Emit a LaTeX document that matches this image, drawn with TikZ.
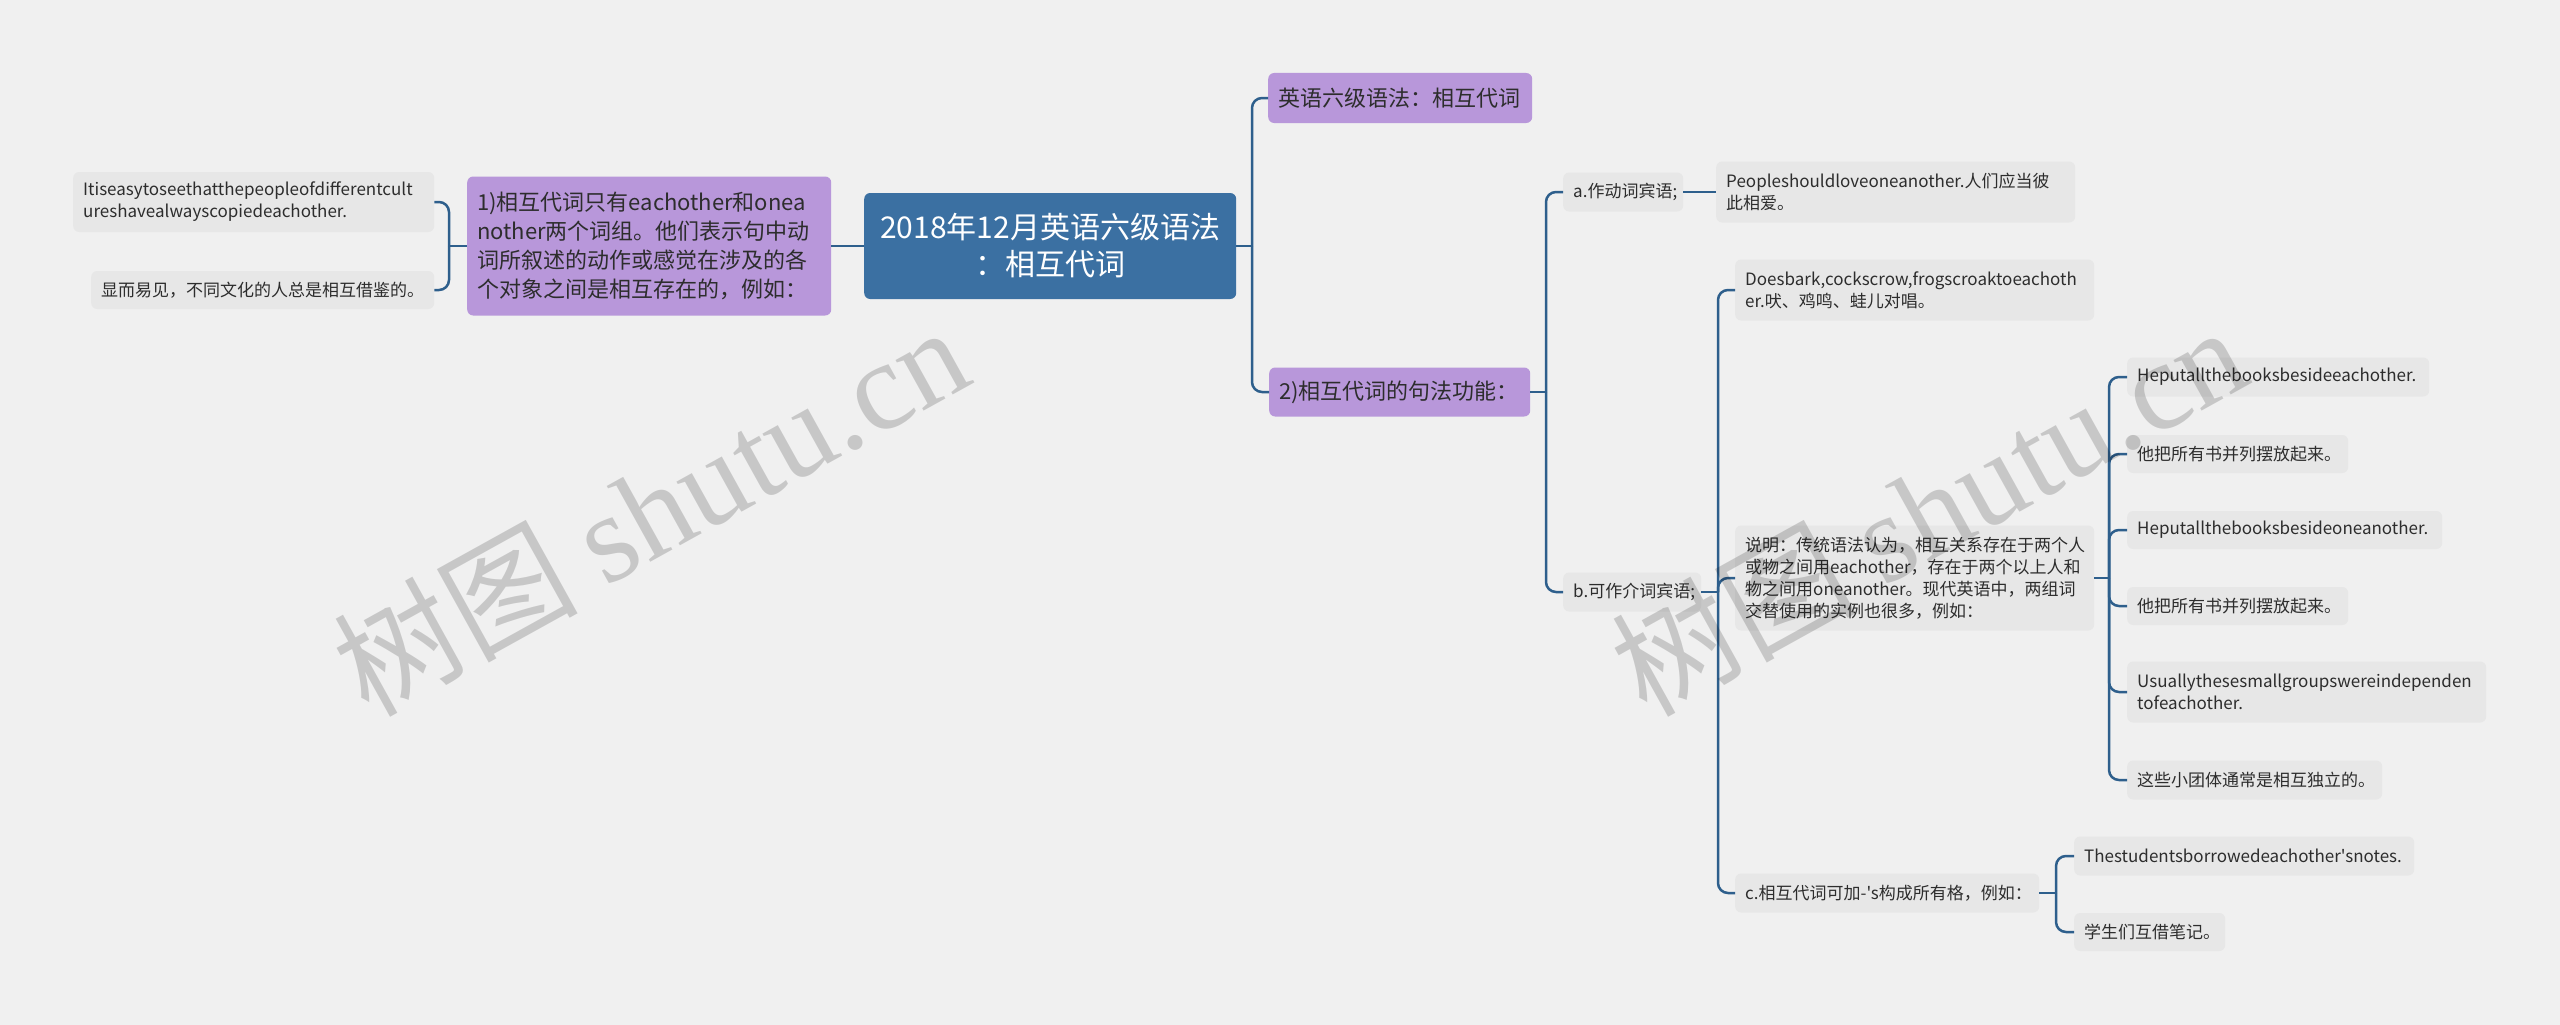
\documentclass[tikz,border=0pt]{standalone}
\usepackage{fontspec}
\newfontfamily\cjk{Noto Sans CJK SC}
\newfontfamily\wmserif{Liberation Serif}
\definecolor{bgc}{RGB}{240,240,240}
\definecolor{leaffill}{RGB}{231,231,231}
\definecolor{purp}{RGB}{184,151,218}
\definecolor{rootblue}{RGB}{59,112,162}
\definecolor{connc}{RGB}{46,95,140}
\definecolor{txt}{RGB}{45,45,45}
\tikzset{
  box/.style={rounded corners=6pt, anchor=west, inner xsep=10pt, inner ysep=0pt, align=left, text=txt},
  leaf/.style={box, fill=leaffill, font=\cjk\fontsize{17pt}{22pt}\selectfont},
  purpbox/.style={box, fill=purp, font=\cjk\fontsize{22pt}{29pt}\selectfont},
  rootbox/.style={box, fill=rootblue, text=white, align=center, font=\cjk\fontsize{30pt}{37pt}\selectfont},
  conn/.style={draw=connc, line width=2.5pt, rounded corners=10pt},
  wm/.style={text=black, text opacity=0.17, font=\cjk\fontsize{122pt}{130pt}\selectfont}
}
\begin{document}
\begin{tikzpicture}[x=1pt,y=-1pt]
\fill[bgc] (0,0) rectangle (2560,1025);
\useasboundingbox (0,0) rectangle (2560,1025);

% root
\node[rootbox, text width=352pt, minimum height=106pt] (root) at (864,246) {2018年12月英语六级语法\\：相互代词};

% left
\node[purpbox, text width=344pt, minimum height=139pt] (L) at (467,246) {1)相互代词只有eachother和onea\\nother两个词组。他们表示句中动\\词所叙述的动作或感觉在涉及的各\\个对象之间是相互存在的，例如：};
\node[leaf, text width=341pt, minimum height=60pt] (L1) at (73,202) {Itiseasytoseethatthepeopleofdifferentcult\\ureshavealwayscopiedeachother.};
\node[leaf, text width=323pt, minimum height=38pt] (L2) at (91,290) {显而易见，不同文化的人总是相互借鉴的。};

% right level 1
\node[purpbox, text width=244pt, minimum height=50pt] (R1) at (1268,98) {英语六级语法：相互代词};
\node[purpbox, text width=241pt, minimum height=49pt] (R2) at (1269,392) {2)相互代词的句法功能：};

% level 2
\node[leaf, text width=100pt, minimum height=39pt] (A) at (1563,192) {a.作动词宾语;};
\node[leaf, text width=339pt, minimum height=61pt] (P) at (1716,192) {Peopleshouldloveoneanother.人们应当彼\\此相爱。};
\node[leaf, text width=118pt, minimum height=39pt] (B) at (1563,592) {b.可作介词宾语;};

% level 3
\node[leaf, text width=339pt, minimum height=61pt] (D) at (1735,290) {Doesbark,cockscrow,frogscroaktoeachoth\\er.吠、鸡鸣、蛙儿对唱。};
\node[leaf, text width=339pt, minimum height=105pt] (S) at (1735,578) {说明：传统语法认为，相互关系存在于两个人\\或物之间用eachother，存在于两个以上人和\\物之间用oneanother。现代英语中，两组词\\交替使用的实例也很多，例如：};
\node[leaf, text width=284pt, minimum height=39pt] (C) at (1735,893) {\mbox{c.相互代词可加-'s构成所有格，例如：}};

% level 4
\node[leaf, text width=282pt, minimum height=39pt] (H1) at (2127,377) {Heputallthebooksbesideeachother.};
\node[leaf, text width=201pt, minimum height=38pt] (T1) at (2127,454) {他把所有书并列摆放起来。};
\node[leaf, text width=295pt, minimum height=38pt] (H2) at (2127,530) {Heputallthebooksbesideoneanother.};
\node[leaf, text width=201pt, minimum height=38pt] (T2) at (2127,606) {他把所有书并列摆放起来。};
\node[leaf, text width=339pt, minimum height=61pt] (U) at (2127,692) {Usuallythesesmallgroupswereindependen\\tofeachother.};
\node[leaf, text width=235pt, minimum height=39pt] (Z) at (2127,780) {这些小团体通常是相互独立的。};
\node[leaf, text width=320pt, minimum height=39pt] (C1) at (2074,856) {Thestudentsborrowedeachother's\-notes.};
\node[leaf, text width=131pt, minimum height=38pt] (C2) at (2074,932) {学生们互借笔记。};

% junctions
\coordinate (jL) at (449,246);
\coordinate (jR) at (1252,246);
\coordinate (j2) at (1546,392);
\coordinate (jB) at (1718,592);
\coordinate (jS) at (2109,578);
\coordinate (jC) at (2056,893);

% connectors
\draw[conn] (L.east) -- (root.west);
\draw[conn] (L.west) -- (jL);
\draw[conn] (jL) |- (L1.east);
\draw[conn] (jL) |- (L2.east);

\draw[conn] (root.east) -- (jR);
\draw[conn] (jR) |- (R1.west);
\draw[conn] (jR) |- (R2.west);

\draw[conn] (R2.east) -- (j2);
\draw[conn] (j2) |- (A.west);
\draw[conn] (j2) |- (B.west);
\draw[conn] (A.east) -- (P.west);

\draw[conn] (B.east) -- (jB);
\draw[conn] (jB) |- (D.west);
\draw[conn] (jB) |- (S.west);
\draw[conn] (jB) |- (C.west);

\draw[conn] (S.east) -- (jS);
\foreach \n in {H1,T1,H2,T2,U,Z} { \draw[conn] (jS) |- (\n.west); }

\draw[conn] (C.east) -- (jC);
\draw[conn] (jC) |- (C1.west);
\draw[conn] (jC) |- (C2.west);

% watermarks
\node[wm, rotate=29] (wm1) at (650,510) {树图 {\wmserif\fontsize{126pt}{140pt}\selectfont shutu.cn}};
\node[wm, rotate=29] (wm2) at (1928,510) {树图 {\wmserif\fontsize{126pt}{140pt}\selectfont shutu.cn}};
\end{tikzpicture}
\end{document}
